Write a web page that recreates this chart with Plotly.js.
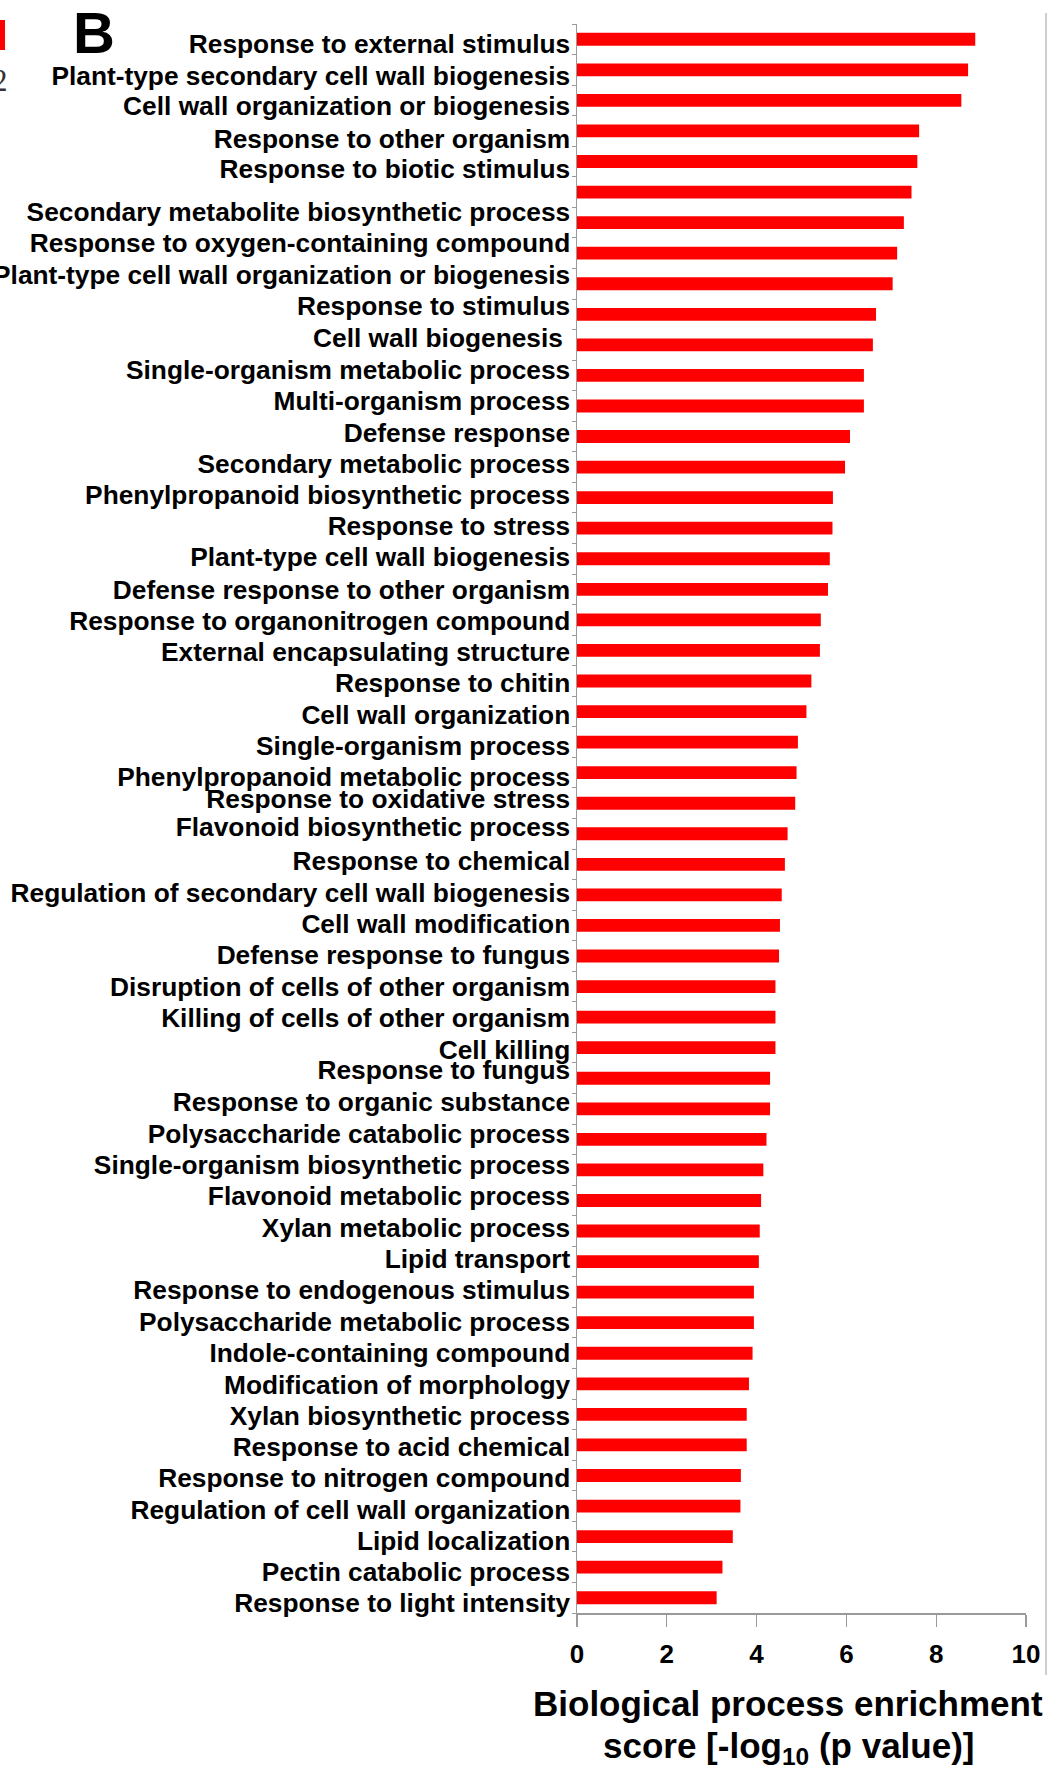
<!DOCTYPE html>
<html>
<head>
<meta charset="utf-8">
<script src="https://cdn.plot.ly/plotly-3.0.1.min.js"></script>
<style>
  html, body { margin: 0; padding: 0; background: #fff; }
  #chart { width: 1050px; height: 1765px; }
</style>
</head>
<body>
<div id="chart"></div>
<script>
// GO biological-process terms (one row label each; one row carries no label)
const terms = [
  "Response to external stimulus",
  "Plant-type secondary cell wall biogenesis",
  "Cell wall organization or biogenesis",
  "Response to other organism",
  "Response to biotic stimulus",
  "Secondary metabolite biosynthetic process",
  "Response to oxygen-containing compound",
  "Plant-type cell wall organization or biogenesis",
  "Response to stimulus",
  "Cell wall biogenesis\u00a0",
  "Single-organism metabolic process",
  "Multi-organism process",
  "Defense response",
  "Secondary metabolic process",
  "Phenylpropanoid biosynthetic process",
  "Response to stress",
  "Plant-type cell wall biogenesis",
  "Defense response to other organism",
  "Response to organonitrogen compound",
  "External encapsulating structure",
  "Response to chitin",
  "Cell wall organization",
  "Single-organism process",
  "Phenylpropanoid metabolic process",
  "Response to oxidative stress",
  "Flavonoid biosynthetic process",
  "Response to chemical",
  "Regulation of secondary cell wall biogenesis",
  "Cell wall modification",
  "Defense response to fungus",
  "Disruption of cells of other organism",
  "Killing of cells of other organism",
  "Cell killing",
  "Response to fungus",
  "Response to organic substance",
  "Polysaccharide catabolic process",
  "Single-organism biosynthetic process",
  "Flavonoid metabolic process",
  "Xylan metabolic process",
  "Lipid transport",
  "Response to endogenous stimulus",
  "Polysaccharide metabolic process",
  "Indole-containing compound",
  "Modification of morphology",
  "Xylan biosynthetic process",
  "Response to acid chemical",
  "Response to nitrogen compound",
  "Regulation of cell wall organization",
  "Lipid localization",
  "Pectin catabolic process",
  "Response to light intensity"
];

// enrichment score, -log10(p value), one value per bar from top to bottom
const scores = [
  8.87, 8.71, 8.56, 7.62, 7.58, 7.45, 7.28, 7.13, 7.03, 6.66,
  6.59, 6.39, 6.39, 6.08, 5.97, 5.70, 5.69, 5.63, 5.59, 5.43,
  5.41, 5.22, 5.11, 4.92, 4.89, 4.86, 4.69, 4.63, 4.56, 4.52,
  4.50, 4.42, 4.42, 4.42, 4.30, 4.30, 4.22, 4.15, 4.10, 4.07,
  4.05, 3.94, 3.94, 3.91, 3.83, 3.78, 3.78, 3.65, 3.64, 3.47,
  3.24, 3.11
];

const xTicks = [0, 2, 4, 6, 8, 10];

// where each term label sits along the row axis (row units)
const labelRows = [
  0.12, 1.14, 2.15, 3.20, 4.21, 5.61, 6.62, 7.66, 8.69, 9.73,
  10.77, 11.80, 12.84, 13.84, 14.88, 15.89, 16.90, 17.96, 18.99, 20.01,
  21.02, 22.05, 23.09, 24.10, 24.80, 25.73, 26.85, 27.88, 28.89, 29.93,
  30.97, 31.98, 33.02, 33.69, 34.74, 35.77, 36.80, 37.82, 38.85, 39.88,
  40.89, 41.93, 42.93, 44.00, 45.01, 46.02, 47.04, 48.07, 49.11, 50.11,
  51.13
];
const LABEL_NUDGE = 0.04;

const W = 1050, H = 1765;
const M = { l: 577, r: 24, t: 24, b: 152 };
const PW = W - M.l - M.r, PH = H - M.t - M.b;
const px = x => (x - M.l) / PW;
const py = y => (H - M.b - y) / PH;

const FONT = "Arial, 'Liberation Sans', sans-serif";
const AXIS_GREY = "#9a9a9a";
const rows = scores.map((_, i) => i);

const trace = {
  type: "bar",
  orientation: "h",
  x: scores,
  y: rows,
  width: 0.42,
  marker: { color: "#ff0000", line: { width: 0 } },
  hoverinfo: "x+y"
};

const layout = {
  width: W,
  height: H,
  margin: M,
  paper_bgcolor: "#ffffff",
  plot_bgcolor: "#ffffff",
  showlegend: false,
  font: { family: FONT, color: "#000" },
  xaxis: {
    range: [0, 10],
    tickmode: "array",
    tickvals: xTicks,
    ticktext: xTicks.map(String),
    ticks: "outside",
    ticklen: 12,
    tickwidth: 1.2,
    tickcolor: AXIS_GREY,
    ticklabelstandoff: 5,
    tickfont: { family: FONT, size: 26, weight: "bold", color: "#000" },
    showline: true,
    linecolor: AXIS_GREY,
    linewidth: 1.5,
    showgrid: false,
    zeroline: false,
    fixedrange: true
  },
  yaxis: {
    range: [scores.length - 0.5, -0.5],
    tickmode: "array",
    tickvals: labelRows.map(r => r + LABEL_NUDGE),
    ticktext: terms,
    ticks: "",
    ticklabelstandoff: 0,
    tickfont: { family: FONT, size: 26.3, weight: "bold", color: "#000" },
    minor: {
      tickmode: "array",
      tickvals: rows.map(i => i - 0.5).concat([scores.length - 0.5]),
      ticks: "outside",
      ticklen: 4,
      tickwidth: 1,
      tickcolor: AXIS_GREY,
      showgrid: false
    },
    showline: true,
    linecolor: AXIS_GREY,
    linewidth: 1.5,
    showgrid: false,
    zeroline: false,
    fixedrange: true
  },
  shapes: [
    // frame edge on the right of the panel
    { type: "line", xref: "paper", yref: "paper",
      x0: px(1046), x1: px(1046), y0: py(13), y1: py(1675),
      line: { color: "#cfcfcf", width: 2 } },
    // edge of the neighbouring panel's legend swatch
    { type: "rect", xref: "paper", yref: "paper",
      x0: px(-2), x1: px(5), y0: py(50), y1: py(20),
      fillcolor: "#ff0000", line: { width: 0 } }
  ],
  annotations: [
    { text: "B", xref: "paper", yref: "paper", x: px(94), y: py(32),
      xanchor: "center", yanchor: "middle", showarrow: false,
      font: { family: FONT, size: 58, weight: "bold", color: "#000" } },
    { text: "2", xref: "paper", yref: "paper", x: px(10), y: py(80),
      xanchor: "right", yanchor: "middle", showarrow: false,
      font: { family: "'Liberation Serif', 'Times New Roman', serif", size: 31, color: "#333" } },
    { text: "Biological process enrichment", xref: "paper", yref: "paper",
      x: px(788), y: py(1703), xanchor: "center", yanchor: "middle", showarrow: false,
      font: { family: FONT, size: 35, weight: "bold", color: "#000" } },
    { text: "score [-log<sub>10</sub> (p value)]", xref: "paper", yref: "paper",
      x: px(788), y: py(1748), xanchor: "center", yanchor: "middle", showarrow: false,
      font: { family: FONT, size: 35, weight: "bold", color: "#000" } }
  ]
};

Plotly.newPlot("chart", [trace], layout, { staticPlot: true, displayModeBar: false });
</script>
</body>
</html>
